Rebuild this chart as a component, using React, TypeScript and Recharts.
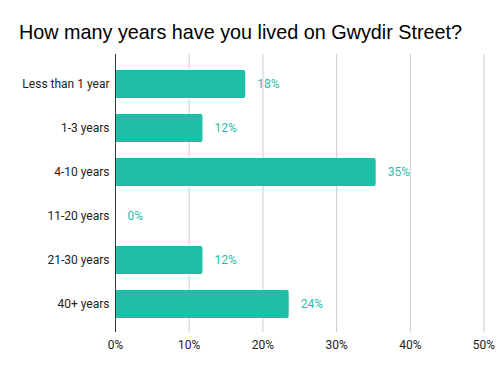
import { Bar, BarChart, CartesianGrid, LabelList, XAxis, YAxis } from "recharts";

const categories = [
  "Less than 1 year",
  "1-3 years",
  "4-10 years",
  "11-20 years",
  "21-30 years",
  "40+ years",
];
const shares = [0.176, 0.118, 0.353, 0, 0.118, 0.235];
const xTicks = [0, 0.1, 0.2, 0.3, 0.4, 0.5];

const TEAL = "#1fbea6";

const data = categories.map((name, i) => ({ name, value: shares[i] }));

const pct = (v: number) => `${Math.round(Number(v) * 100)}%`;

export default function App() {
  return (
    <div style={{ position: "fixed", left: 0, top: 0, width: 504, height: 371, background: "#fff" }}>
      <div
        style={{
          position: "absolute",
          left: 19,
          top: 22,
          fontFamily: "'Liberation Sans', Arial, sans-serif",
          fontSize: 19.8,
          lineHeight: "20px",
          color: "#000",
          whiteSpace: "nowrap",
        }}
      >
        How many years have you lived on Gwydir Street?
      </div>
      <BarChart
        width={504}
        height={371}
        data={data}
        layout="vertical"
        margin={{ top: 54, right: 20, bottom: 0, left: 0 }}
        barSize={28}
      >
        <CartesianGrid horizontal={false} stroke="#cccccc" />
        <XAxis
          type="number"
          domain={[0, 0.5]}
          ticks={xTicks}
          tickFormatter={pct}
          axisLine={false}
          tickLine={false}
          height={39}
          tickMargin={2}
          interval={0}
          tick={{ fill: "#222", fontSize: 12, fontFamily: "Roboto, sans-serif" }}
        />
        <YAxis
          type="category"
          dataKey="name"
          width={115.5}
          padding={{ top: 8, bottom: 6 }}
          axisLine={{ stroke: "#333" }}
          tickLine={false}
          tickMargin={0}
          interval={0}
          tick={{ fill: "#222", fontSize: 12, fontFamily: "Roboto, sans-serif" }}
        />
        <Bar
          dataKey="value"
          fill={TEAL}
          radius={[0, 2, 2, 0]}
          minPointSize={0.01}
          isAnimationActive={false}
        >
          <LabelList
            dataKey="value"
            position="right"
            offset={12}
            formatter={pct}
            fill={TEAL}
            fontSize={12}
            fontFamily="Roboto, sans-serif"
          />
        </Bar>
      </BarChart>
    </div>
  );
}
